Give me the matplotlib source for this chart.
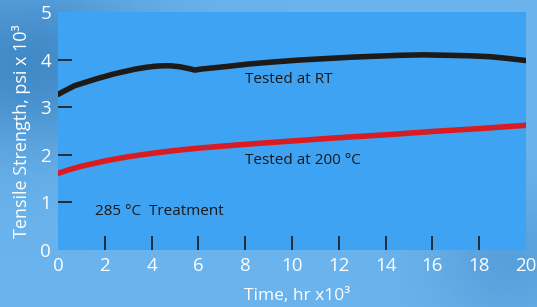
import matplotlib.pyplot as plt
import numpy as np

plt.rcParams['font.family'] = ['Open Sans', 'DejaVu Sans']

# Tensile strength (psi x 10^3) vs time (hr x 10^3)
time_rt = [0, 0.7, 1.6, 2.4, 3.3, 3.8, 4.15, 4.5, 4.8, 5.2, 5.6, 5.85, 6.1, 6.5,
           7.3, 8.2, 9.2, 10.3, 11.4, 12.5, 13.5, 14.6, 15.6, 16.7, 17.6, 18.5,
           19.3, 20]
strength_rt = [3.27, 3.45, 3.59, 3.70, 3.80, 3.84, 3.86, 3.87, 3.87, 3.85, 3.81,
               3.78, 3.80, 3.82, 3.86, 3.91, 3.95, 3.99, 4.02, 4.05, 4.07, 4.09,
               4.10, 4.09, 4.08, 4.06, 4.02, 3.98]

time_200 = [0, 0.5, 1, 2, 3, 4, 5, 6, 8, 10, 12, 14, 16, 18, 20]
strength_200 = [1.61, 1.69, 1.76, 1.87, 1.96, 2.03, 2.09, 2.14, 2.22, 2.29, 2.36,
                2.42, 2.49, 2.55, 2.62]

xticks = [0, 2, 4, 6, 8, 10, 12, 14, 16, 18, 20]
yticks = [0, 1, 2, 3, 4, 5]

fig = plt.figure(figsize=(5.37, 3.07), dpi=100)

# soft blue backdrop
bg = fig.add_axes([0, 0, 1, 1], zorder=0)
gy, gx = np.mgrid[0:1:100j, 0:1:160j]
shade = 0.55 * np.exp(-((gx - 0.05) ** 2 / 0.05 + (gy - 0.2) ** 2 / 0.08)) \
    + 0.25 * np.exp(-((gx - 0.95) ** 2 / 0.02 + (gy - 0.85) ** 2 / 0.05))
bg.imshow(shade, cmap=plt.matplotlib.colors.LinearSegmentedColormap.from_list(
    'bgblue', ['#6ab3ec', '#2f78b8']), aspect='auto', extent=[0, 1, 0, 1],
    vmin=0, vmax=0.8)
bg.axis('off')

ax = fig.add_axes([58 / 537, 1 - 250 / 307, 468 / 537, 238 / 307], zorder=1)
ax.set_facecolor('#3ea3f2')

ax.plot(time_rt, strength_rt, color='#1e1a18', lw=4, solid_capstyle='round',
        solid_joinstyle='round')
ax.plot(time_200, strength_200, color='#d91c22', lw=4, solid_capstyle='round',
        solid_joinstyle='round')

ax.text(8.0, 3.59, 'Tested at RT', fontsize=11, color='#1a1a1a', va='center')
ax.text(8.0, 1.89, 'Tested at 200 °C', fontsize=11, color='#1a1a1a', va='center')
ax.text(1.6, 0.80, '285 °C  Treatment', fontsize=11, color='#1a1a1a', va='center')

ax.set_xlim(0, 20)
ax.set_ylim(0, 5)
ax.set_xticks(xticks)
ax.set_yticks(yticks)
ax.tick_params(direction='in', length=10, width=1.2, color='#1a1a1a',
               labelcolor='white', labelsize=13.5, pad=5)
for t in [ax.xaxis.get_major_ticks()[0], ax.xaxis.get_major_ticks()[-1],
          ax.yaxis.get_major_ticks()[0], ax.yaxis.get_major_ticks()[-1]]:
    t.tick1line.set_visible(False)
for s in ax.spines.values():
    s.set_visible(False)

ax.set_xlabel('Time, hr x10³', color='white', fontsize=12.5, labelpad=7)
ax.xaxis.set_label_coords(0.51, -0.16)
ax.set_ylabel('Tensile Strength, psi x 10³', color='white', fontsize=13, labelpad=7)

fig.savefig('out.png', dpi=100)
